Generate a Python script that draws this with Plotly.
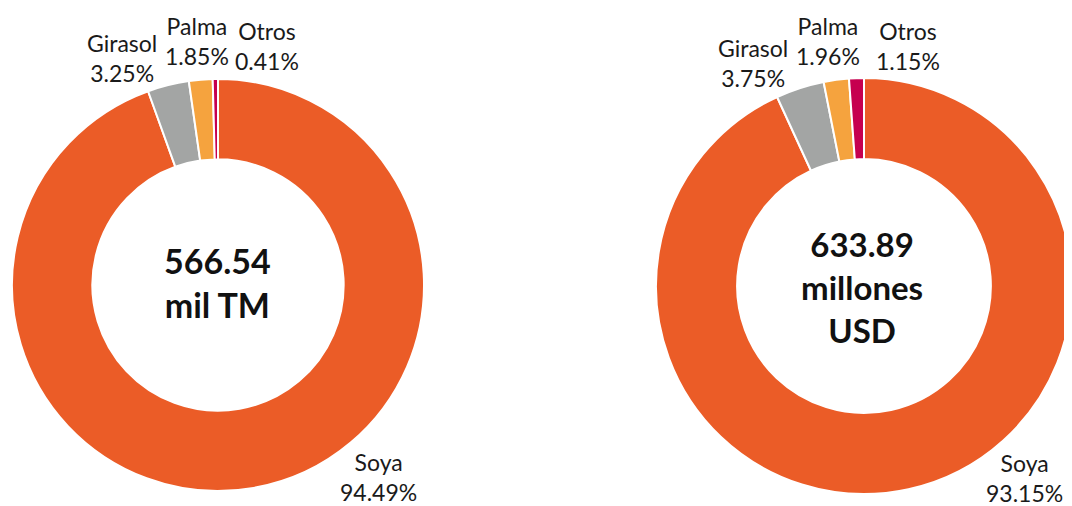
import plotly.graph_objects as go

categories = ["Soya", "Girasol", "Palma", "Otros"]
vol_pct = [94.49, 3.25, 1.85, 0.41]
val_pct = [93.15, 3.75, 1.96, 1.15]
center_vol = "566.54<br>mil TM"
center_val = "633.89<br>millones<br>USD"

colors = ["#EB5C27", "#A3A5A4", "#F5A33E", "#C6004F"]
OFF = 8  # page body margin
W, H = 1072 - OFF, 506 - OFF
FONT = "Lato"

def px(x): return (x - OFF) / W
def py(y): return 1 - (y - OFF) / H

fig = go.Figure()
for vals, cx, cy, r in [(vol_pct, 218, 285, 206), (val_pct, 864, 286, 208)]:
    fig.add_trace(go.Pie(
        labels=categories, values=vals, hole=0.61, sort=False,
        direction="clockwise", rotation=0, textinfo="none",
        marker=dict(colors=colors, line=dict(color="white", width=2)),
        domain=dict(x=[max(0, px(cx - r)), min(1, px(cx + r))], y=[py(cy + r), py(cy - r)]),
        showlegend=False, hoverinfo="label+percent",
    ))

def fmt(v):
    return f"{v:.2f}%"

label_pos_left = {"Soya": (378, 477), "Girasol": (122, 58), "Palma": (197, 41), "Otros": (267, 46)}
label_pos_right = {"Soya": (1024, 478), "Girasol": (753, 63), "Palma": (828, 41), "Otros": (908, 46)}

for vals, pos in [(vol_pct, label_pos_left), (val_pct, label_pos_right)]:
    for cat, v in zip(categories, vals):
        x, y = pos[cat]
        fig.add_annotation(x=px(x), y=py(y), xref="paper", yref="paper",
                           text=f"{cat}<br>{fmt(v)}", showarrow=False,
                           font=dict(family=FONT, size=23, color="#1a1a1a"),
                           xanchor="center", yanchor="middle", align="center")

fig.add_annotation(x=px(217), y=py(282), xref="paper", yref="paper", text=f"<b>{center_vol}</b>",
                   showarrow=False, font=dict(family=FONT, size=34, color="#111"),
                   xanchor="center", yanchor="middle", align="center")
fig.add_annotation(x=px(862), y=py(287), xref="paper", yref="paper", text=f"<b>{center_val}</b>",
                   showarrow=False, font=dict(family=FONT, size=33, color="#111"),
                   xanchor="center", yanchor="middle", align="center")

fig.update_layout(width=W, height=H, margin=dict(l=0, r=0, t=0, b=0),
                  paper_bgcolor="white", plot_bgcolor="white", font=dict(family=FONT))
fig.write_html("out.html")
